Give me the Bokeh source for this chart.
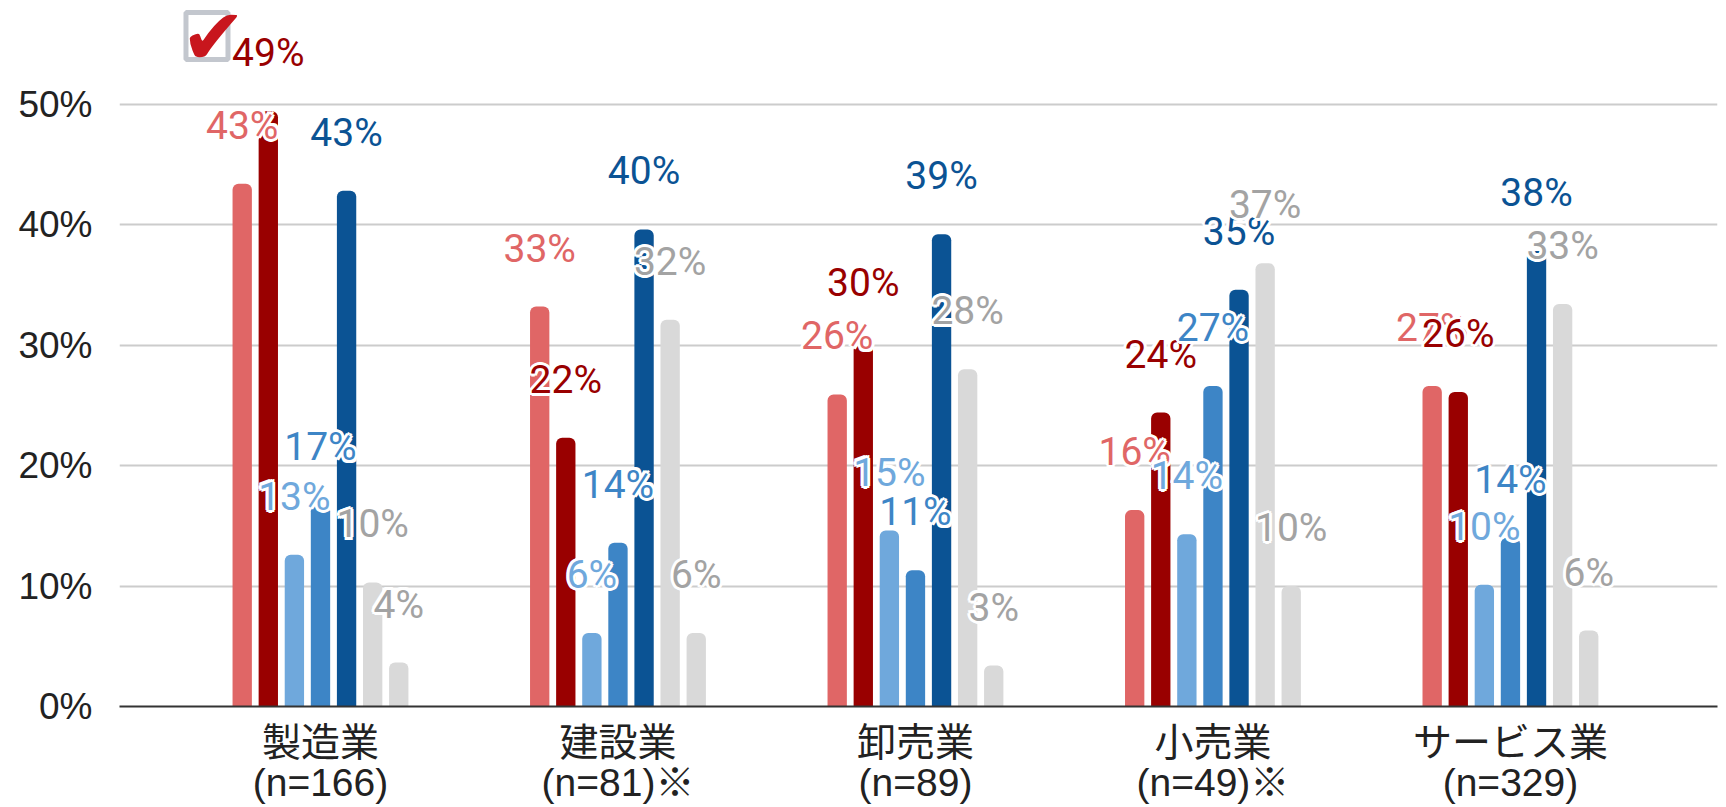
from bokeh.plotting import figure
from bokeh.models import Range1d, FixedTicker, PrintfTickFormatter, Label
from bokeh.core.properties import value
from bokeh.embed import file_html
from bokeh.resources import INLINE

# ---- data ----
categories = ["製造業\n(n=166)", "建設業\n(n=81)※", "卸売業\n(n=89)", "小売業\n(n=49)※", "サービス業\n(n=329)"]
series1 = [43.4, 33.2, 25.9, 16.3, 26.6]
series2 = [49.4, 22.3, 30.3, 24.4, 26.1]
series3 = [12.6, 6.1, 14.6, 14.3, 10.1]
series4 = [16.7, 13.6, 11.3, 26.6, 14.0]
series5 = [42.8, 39.6, 39.2, 34.6, 37.8]
series6 = [10.3, 32.1, 28.0, 36.8, 33.4]
series7 = [3.65, 6.1, 3.4, 10.0, 6.3]
y_ticks = [0, 10, 20, 30, 40, 50]

all_series = [series1, series2, series3, series4, series5, series6, series7]
bar_colors = ["#E06666", "#990000", "#6FA8DC", "#3D85C6", "#0B5394", "#D9D9D9", "#D9D9D9"]
label_colors = ["#E06666", "#990000", "#6FA8DC", "#3D85C6", "#0B5394", "#A3A3A3", "#A3A3A3"]

BAR_PITCH = 0.0877
BAR_WIDTH = 0.065
HALO = [(-3, 0), (3, 0), (0, -3), (0, 3), (-2.2, -2.2), (2.2, -2.2), (-2.2, 2.2), (2.2, 2.2)]

p = figure(width=1726, height=807,
           x_range=Range1d(-0.6756, 4.696), y_range=Range1d(0, 58.6),
           output_backend="svg", toolbar_location=None,
           min_border_left=119, min_border_right=9, min_border_top=0, min_border_bottom=101)
p.outline_line_color = None
p.background_fill_color = "white"
p.border_fill_color = "white"
p.xgrid.grid_line_color = None
p.ygrid.grid_line_color = "#CCCCCC"
p.ygrid.grid_line_width = 2
p.ygrid.ticker = FixedTicker(ticks=y_ticks)

# y axis
p.yaxis.ticker = FixedTicker(ticks=y_ticks)
p.yaxis.formatter = PrintfTickFormatter(format="%d%%")
p.yaxis.axis_line_color = None
p.yaxis.major_tick_line_color = None
p.yaxis.minor_tick_line_color = None
p.yaxis.major_label_standoff = 21
p.yaxis.major_label_text_font = "Liberation Sans"
p.yaxis.major_label_text_font_size = "37px"
p.yaxis.major_label_text_color = "#222222"

# x axis
p.xaxis.ticker = FixedTicker(ticks=list(range(len(categories))))
p.xaxis.major_label_overrides = {i: c for i, c in enumerate(categories)}
p.xaxis.axis_line_color = "#333333"
p.xaxis.axis_line_width = 2
p.xaxis.major_tick_line_color = None
p.xaxis.minor_tick_line_color = None
p.xaxis.major_label_standoff = 8
p.xaxis.major_label_text_font = "'Liberation Sans', 'Noto Sans CJK JP'"
p.xaxis.major_label_text_font_size = "39px"
p.xaxis.major_label_text_line_height = 0.95
p.xaxis.major_label_text_color = "#222222"

n = len(all_series)
for j, (vals, bc) in enumerate(zip(all_series, bar_colors)):
    xs = [i + (j - (n - 1) / 2) * BAR_PITCH for i in range(len(categories))]
    p.vbar(x=xs, top=vals, bottom=0, width=BAR_WIDTH, fill_color=bc, line_color=None,
           border_radius=(6, 6, 0, 0))
for j, (vals, lc) in enumerate(zip(all_series, label_colors)):
    xs = [i + (j - (n - 1) / 2) * BAR_PITCH for i in range(len(categories))]
    labels = [f"{round(v)}%" for v in vals]
    for dx, dy in HALO:
        p.text(x=xs, y=vals, text=labels, text_color="white", text_font=value("Roboto"),
               text_font_size="39px", text_align="center", text_baseline="middle",
               x_offset=dx, y_offset=-58 + dy)
    p.text(x=xs, y=vals, text=labels, text_color=lc, text_font=value("Roboto"),
           text_font_size="39px", text_align="center", text_baseline="middle", y_offset=-58)

# decorative checkbox icon (top-left)
p.add_layout(Label(x=-0.3815, y=55.66, text="\u3000", text_font_size="36px",
                   text_align="center", text_baseline="middle",
                   border_line_color="#C3C7CE", border_line_width=5, padding=3))
p.add_layout(Label(x=-0.36, y=55.6, text="\u2714", text_font="DejaVu Sans",
                   text_font_size="78px", text_color="#C8161D",
                   text_align="center", text_baseline="middle"))

open("out.html", "w").write(file_html(p, INLINE))
